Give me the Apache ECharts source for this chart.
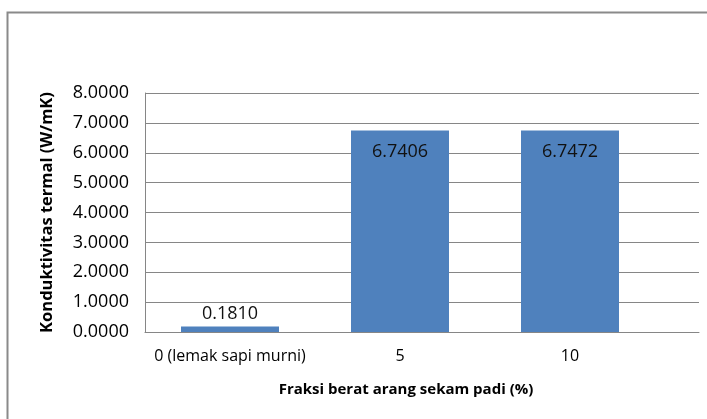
<!DOCTYPE html>
<html><head><meta charset="utf-8">
<script src="https://cdn.jsdelivr.net/npm/echarts@6/dist/echarts.min.js"></script>
<style>html,body{margin:0;padding:0;background:#fff}#c{width:707px;height:419px}</style>
</head><body><div id="c"></div>
<script>
var categories = ['0 (lemak sapi murni)', '5', '10'];
var values = [0.1810, 6.7406, 6.7472];
var yTicks = [0, 1, 2, 3, 4, 5, 6, 7, 8];
var xTitle = 'Fraksi berat arang sekam padi (%)';
var yTitle = 'Konduktivitas termal (W/mK)';

var chart = echarts.init(document.getElementById('c'), null, {renderer: 'canvas'});
var font = '"Open Sans", "DejaVu Sans", sans-serif';
chart.setOption({
  animation: false,
  backgroundColor: '#fff',
  graphic: [{type: 'rect', shape: {x: 7.5, y: 12.5, width: 720, height: 430}, style: {fill: 'none', stroke: '#8a8a8a', lineWidth: 2}, z: -10}],
  grid: [
    {left: 145, right: 8, top: 93, bottom: 87},
    {left: 145, right: 52, top: 93, bottom: 87}
  ],
  xAxis: [
    {gridIndex: 0, type: 'category', data: [''], axisTick: {show: false}, axisLabel: {show: false},
     axisLine: {lineStyle: {color: '#868686', width: 1}}},
    {gridIndex: 1, type: 'category', data: categories, axisTick: {show: false},
     axisLine: {show: false},
     axisLabel: {interval: 0, color: '#000', fontFamily: font, fontSize: 16, margin: 16},
     name: xTitle, nameLocation: 'middle', nameGap: 50,
     nameTextStyle: {color: '#000', fontFamily: font, fontWeight: 'bold', fontSize: 15, padding: [0, 0, 0, 12]}}
  ],
  yAxis: [
    {gridIndex: 0, type: 'value', min: yTicks[0], max: yTicks[yTicks.length - 1], interval: 1,
     axisLine: {show: true, lineStyle: {color: '#868686'}}, axisTick: {show: false},
     splitLine: {lineStyle: {color: '#868686', width: 1}},
     axisLabel: {color: '#000', fontFamily: font, fontSize: 18, margin: 16,
                 formatter: function (v) { return v.toFixed(4); }},
     name: yTitle, nameLocation: 'middle', nameGap: 89,
     nameTextStyle: {color: '#000', fontFamily: font, fontWeight: 'bold', fontSize: 16.5}},
    {gridIndex: 1, type: 'value', min: yTicks[0], max: yTicks[yTicks.length - 1], interval: 1, show: false}
  ],
  series: [{
    type: 'bar', xAxisIndex: 1, yAxisIndex: 1, barWidth: 98,
    itemStyle: {color: '#4F81BD'},
    data: values.map(function (v, i) {
      return {value: v, label: i === 0 ? {position: 'top', distance: 4} : {position: 'insideTop', distance: 12}};
    }),
    label: {show: true, color: '#111', fontFamily: font, fontSize: 18,
            formatter: function (p) { return p.value.toFixed(4); }}
  }]
});
</script></body></html>
